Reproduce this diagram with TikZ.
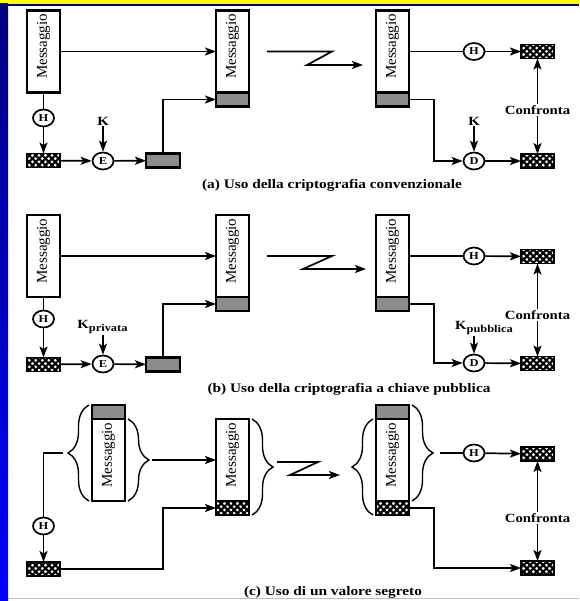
\documentclass[tikz,border=0pt]{standalone}
\usepackage{fontspec}
\setmainfont{Liberation Serif}
\newfontfamily\capfont[FakeStretch=1.18]{Liberation Serif}
\usetikzlibrary{arrows.meta,positioning,shapes.geometric,patterns.meta,decorations.pathreplacing}
\definecolor{topbar}{RGB}{255,255,0}
\definecolor{navy}{RGB}{0,0,128}
\definecolor{sidebar}{RGB}{0,0,255}
\definecolor{tagfill}{RGB}{140,140,140}

\newcommand{\msgtext}{\rotatebox{90}{\hspace{10pt}Messaggio}}

\begin{document}
\begin{tikzpicture}[
    x=1pt, y=-1pt,
    msg/.style={rectangle, draw, line width=2.1pt, minimum width=33pt, minimum height=82pt, inner sep=0pt, outer sep=0pt, font=\fontsize{15}{15}\selectfont},
    tag/.style={rectangle, draw, line width=2.1pt, fill=tagfill, minimum width=33pt, minimum height=14pt, inner sep=0pt, outer sep=0pt},
    hatch/.style={rectangle, draw, line width=1.8pt, minimum width=33pt, minimum height=14pt, inner sep=0pt, outer sep=0pt,
        preaction={fill=white}, preaction={pattern={Lines[angle=45,distance=4.6pt,line width=2.2pt]}},
        pattern={Lines[angle=-45,distance=4.6pt,line width=2.2pt]}},
    fn/.style={ellipse, draw, line width=1.7pt, fill=white, minimum width=21pt, minimum height=17pt, inner sep=0pt, font=\capfont\bfseries\fontsize{10.5}{10.5}\selectfont},
    lbl/.style={font=\capfont\bfseries\fontsize{12.5}{13}\selectfont, inner sep=1pt},
    caption/.style={font=\capfont\bfseries\fontsize{13}{14}\selectfont},
    link/.style={line width=1.7pt},
    arrow/.style={line width=1.7pt, -{Stealth[length=11pt,width=8pt,inset=2.5pt]}},
    curly/.style={line width=1.4pt, decorate, decoration={brace, amplitude=21pt}},
]

% frame
\fill[white] (0,0) rectangle (579,601);
\fill[topbar] (0,0) rectangle (579,4);
\fill[navy] (0,4) rectangle (579,6);
\shade[top color=navy, bottom color=sidebar] (0,4) rectangle (8,601);
\draw[black!25, line width=1pt] (8,598.5) -- (579,598.5);
\useasboundingbox (0,0) rectangle (579,601);

% (a) sender
\node[msg] (msg_a1) at (43.5,51.5) {\msgtext};
\node[fn] (h_a1) at (43.5,118) {H};
\node[hatch] (hash_a1) at (43.5,160.5) {};
\node[fn] (e_a) at (103,161) {E};
\node[lbl] (k_a1) at (103,121) {K};
\node[tag, minimum width=34pt] (sig_a) at (163,160.5) {};

% (a) transmitted message
\node[msg] (msg_a2) at (232.5,51.5) {\msgtext};
\node[tag, below=0pt of msg_a2] (tag_a2) {};
\coordinate (zz_a1) at (267,51.5);
\coordinate (zz_a2) at (332,51.5);
\coordinate (zz_a3) at (307,65);
\coordinate (zz_a4) at (363,65);

% (a) receiver
\node[msg] (msg_a3) at (392.5,51.5) {\msgtext};
\node[tag, below=0pt of msg_a3] (tag_a3) {};
\node[fn] (h_a3) at (474,51.5) {H};
\node[hatch] (hash_a3) at (537.5,51.5) {};
\node[fn] (d_a) at (474,161) {D};
\node[lbl] (k_a2) at (474,121) {K};
\node[hatch] (hash_a4) at (537.5,161) {};
\node[lbl] (cmp_a) at (537.5,110) {Confronta};

% (a) arrows
\draw[link] (msg_a1) -- (h_a1);
\draw[arrow] (h_a1) -- (hash_a1);
\draw[arrow] (hash_a1) -- (e_a);
\draw[arrow] (k_a1) -- (e_a);
\draw[arrow] (e_a) -- (sig_a);
\draw[arrow] (sig_a) |- (tag_a2);
\draw[arrow] (msg_a1) -- (msg_a2);
\draw[arrow] (zz_a1) -- (zz_a2) -- (zz_a3) -- (zz_a4);
\draw[link] (msg_a3) -- (h_a3);
\draw[arrow] (h_a3) -- (hash_a3);
\draw[arrow] (tag_a3.east) -- ++(25,0) |- (d_a);
\draw[arrow] (k_a2) -- (d_a);
\draw[arrow] (d_a) -- (hash_a4);
\draw[arrow] (cmp_a) -- (hash_a3);
\draw[arrow] (cmp_a) -- (hash_a4);

\node[caption] (cap_a) at (332,185) {(a) Uso della criptografia convenzionale};

% (b) sender
\node[msg] (msg_b1) at (43.5,256) {\msgtext};
\node[fn] (h_b1) at (43.5,319) {H};
\node[hatch] (hash_b1) at (43.5,364.5) {};
\node[fn] (e_b) at (103,364) {E};
\node[lbl] (k_b1) at (102.5,327) {K\raisebox{-0.45ex}{\fontsize{10.5}{11}\selectfont privata}};
\node[tag, minimum width=34pt] (sig_b) at (163,364.5) {};

% (b) transmitted message
\node[msg] (msg_b2) at (232.5,256) {\msgtext};
\node[tag, below=0pt of msg_b2] (tag_b2) {};
\coordinate (zz_b1) at (267,256);
\coordinate (zz_b2) at (332,256);
\coordinate (zz_b3) at (303,269);
\coordinate (zz_b4) at (366,269);

% (b) receiver
\node[msg] (msg_b3) at (392.5,256) {\msgtext};
\node[tag, below=0pt of msg_b3] (tag_b3) {};
\node[fn] (h_b3) at (474,256) {H};
\node[hatch] (hash_b3) at (537.5,256.5) {};
\node[fn] (d_b) at (474,363) {D};
\node[lbl] (k_b2) at (484,328) {K\raisebox{-0.45ex}{\fontsize{10.5}{11}\selectfont pubblica}};
\node[hatch] (hash_b4) at (537.5,363.5) {};
\node[lbl] (cmp_b) at (537.5,315) {Confronta};

% (b) arrows
\draw[link] (msg_b1) -- (h_b1);
\draw[arrow] (h_b1) -- (hash_b1);
\draw[arrow] (hash_b1) -- (e_b);
\draw[arrow] (k_b1.south -| e_b) -- (e_b);
\draw[arrow] (e_b) -- (sig_b);
\draw[arrow] (sig_b) |- (tag_b2);
\draw[arrow] (msg_b1) -- (msg_b2);
\draw[arrow] (zz_b1) -- (zz_b2) -- (zz_b3) -- (zz_b4);
\draw[link] (msg_b3) -- (h_b3);
\draw[arrow] (h_b3) -- (hash_b3);
\draw[arrow] (tag_b3.east) -- ++(25,0) |- (d_b);
\draw[arrow] (k_b2.south -| d_b) -- (d_b);
\draw[arrow] (d_b) -- (hash_b4);
\draw[arrow] (cmp_b) -- (hash_b3);
\draw[arrow] (cmp_b) -- (hash_b4);

\node[caption] (cap_b) at (349,389) {(b) Uso della criptografia a chiave pubblica};

% (c) sender
\node[msg] (msg_c1) at (108.5,460) {\msgtext};
\node[tag, above=0pt of msg_c1] (tag_c1) {};
\node[fn] (h_c1) at (43.5,526) {H};
\node[hatch] (hash_c1) at (43.5,569) {};
\coordinate (bt_c1) at (63,453);
\coordinate (bt_c2) at (152,460);
\draw[curly] ([xshift=-3pt]msg_c1.south west) -- ([xshift=-3pt]tag_c1.north west);
\draw[curly] ([xshift=3pt]msg_c1.north east) -- ([xshift=3pt]msg_c1.south east);

% (c) transmitted message
\node[msg] (msg_c2) at (232.5,460) {\msgtext};
\node[hatch, below=0pt of msg_c2] (hash_c2) {};
\draw[curly] ([xshift=3pt]msg_c2.north east) -- ([xshift=3pt]hash_c2.south east);
\coordinate (zz_c1) at (277,462);
\coordinate (zz_c2) at (318,462);
\coordinate (zz_c3) at (290,475);
\coordinate (zz_c4) at (340,475);

% (c) receiver
\node[msg] (msg_c3) at (392.5,460) {\msgtext};
\node[tag, above=0pt of msg_c3] (tag_c3) {};
\node[hatch, below=0pt of msg_c3] (hash_c3) {};
\draw[curly] ([xshift=-3pt]hash_c3.south west) -- ([xshift=-3pt]msg_c3.north west);
\draw[curly] ([xshift=3pt]tag_c3.north east) -- ([xshift=3pt]msg_c3.south east);
\coordinate (bt_c3) at (440,453);
\node[fn] (h_c3) at (474,453) {H};
\node[hatch] (hash_c4) at (537.5,454) {};
\node[hatch] (hash_c5) at (537.5,568) {};
\node[lbl] (cmp_c) at (537.5,518) {Confronta};

% (c) arrows
\draw[link] (bt_c1) -| (h_c1);
\draw[arrow] (h_c1) -- (hash_c1);
\draw[arrow] (bt_c2) -- (msg_c2);
\draw[arrow] (hash_c1.east) -- ++(103,0) |- (hash_c2);
\draw[arrow] (zz_c1) -- (zz_c2) -- (zz_c3) -- (zz_c4);
\draw[link] (bt_c3) -- (h_c3);
\draw[arrow] (h_c3) -- (hash_c4);
\draw[arrow] (hash_c3.east) -- ++(25,0) |- (hash_c5);
\draw[arrow] (cmp_c) -- (hash_c4);
\draw[arrow] (cmp_c) -- (hash_c5);

\node[caption] (cap_c) at (333,592) {(c) Uso di un valore segreto};

\end{tikzpicture}
\end{document}
